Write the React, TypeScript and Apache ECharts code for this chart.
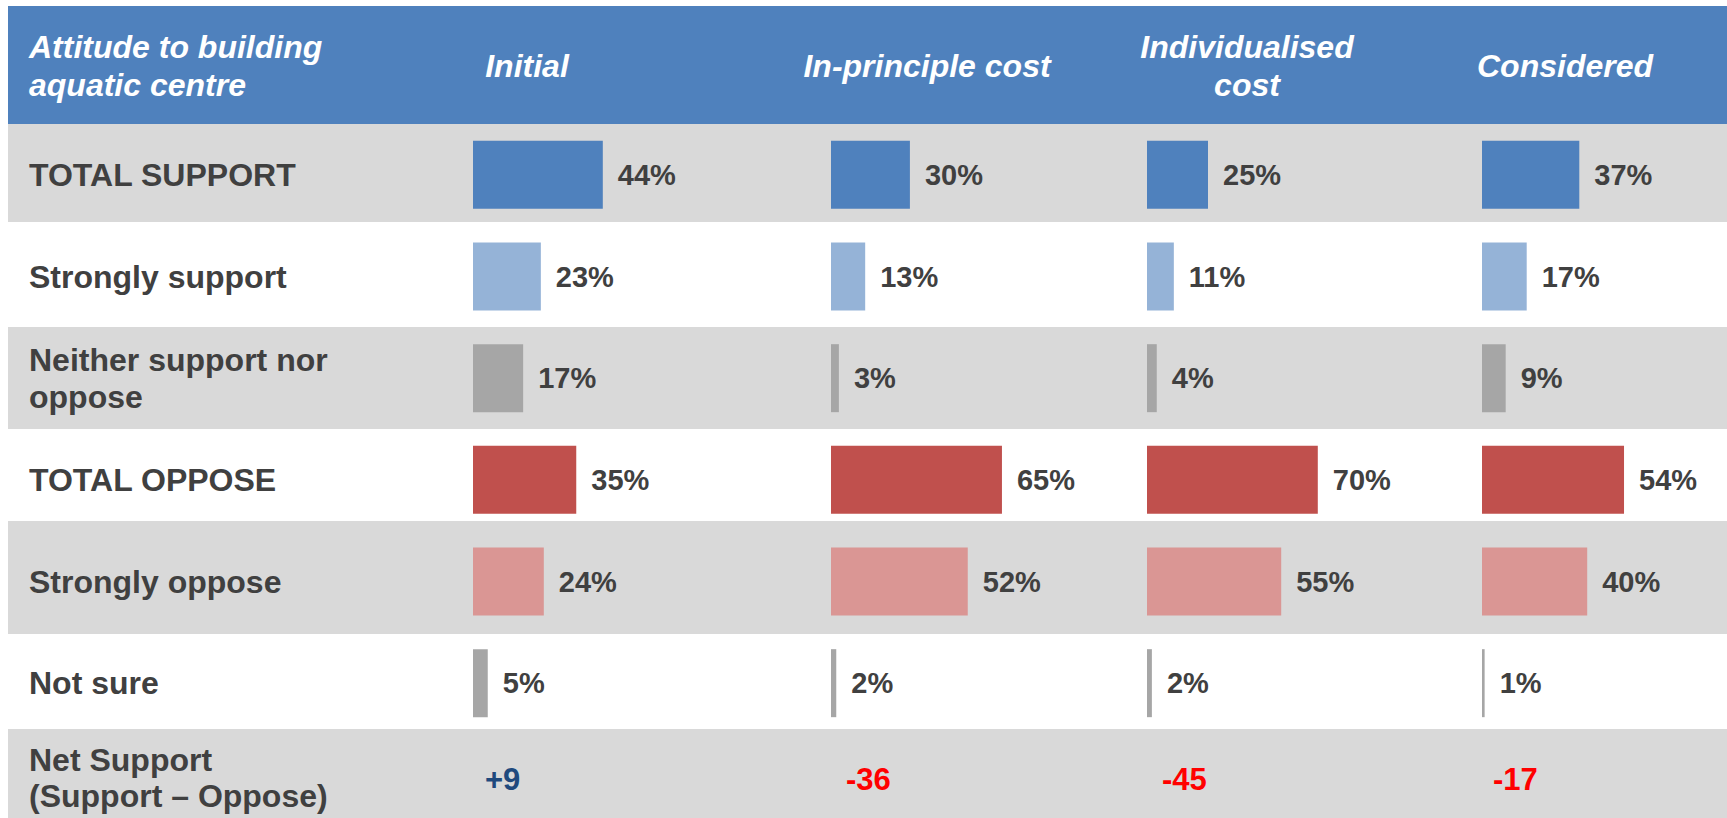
import React, { useEffect, useRef } from "react";
import * as echarts from "echarts";

const rowLabels = [
  "TOTAL SUPPORT",
  "Strongly support",
  "Neither support nor\noppose",
  "TOTAL OPPOSE",
  "Strongly oppose",
  "Not sure",
];
const columns = ["Initial", "In-principle cost", "Individualised\ncost", "Considered"];
const initialValues = [44, 23, 17, 35, 24, 5];
const inPrincipleValues = [30, 13, 3, 65, 52, 2];
const individualisedValues = [25, 11, 4, 70, 55, 2];
const consideredValues = [37, 17, 9, 54, 40, 1];
const netSupport = ["+9", "-36", "-45", "-17"];
const netLabel = "Net Support\n(Support – Oppose)";
const headerLabel = "Attitude to building\naquatic centre";

const rowColors = ["#4F81BD", "#95B3D7", "#A6A6A6", "#C0504D", "#DA9694", "#A6A6A6"];
const FONT = "'Liberation Sans', Arial, sans-serif";

export default function App() {
  const ref = useRef<HTMLDivElement>(null);
  useEffect(() => {
    if (!ref.current) return;
    const chart = echarts.init(ref.current, undefined, { renderer: "svg" });
    const allValues = [initialValues, inPrincipleValues, individualisedValues, consideredValues];
    // layout per column
    const colLeft = [473, 831, 1147, 1482];
    const colWidth = 240;
    const pxPerPct = [2.95, 2.63, 2.44, 2.63];
    const headerCenter = [527, 927, 1247, 1565];
    const netX = [485, 846, 1162, 1493];
    const gridTop = 124;
    const gridHeight = 610;

    const bands = [
      { y: 6, h: 118, c: "#4F81BD" },
      { y: 124, h: 98, c: "#D9D9D9" },
      { y: 222, h: 105, c: "#FFFFFF" },
      { y: 327, h: 102, c: "#D9D9D9" },
      { y: 429, h: 92, c: "#FFFFFF" },
      { y: 521, h: 113, c: "#D9D9D9" },
      { y: 634, h: 95, c: "#FFFFFF" },
      { y: 729, h: 89, c: "#D9D9D9" },
    ];

    const graphic: any[] = bands.map((b) => ({
      type: "rect",
      z: -10,
      silent: true,
      shape: { x: 8, y: b.y, width: 1727 - 8, height: b.h },
      style: { fill: b.c },
    }));
    graphic.push({
      type: "text",
      z: 10,
      x: 29,
      y: 66,
      style: {
        text: headerLabel,
        fill: "#FFFFFF",
        fontSize: 32,
        fontWeight: "bold",
        fontStyle: "italic",
        fontFamily: FONT,
        lineHeight: 38,
        align: "left",
        verticalAlign: "middle",
      },
    });
    columns.forEach((c, i) => {
      graphic.push({
        type: "text",
        z: 10,
        x: headerCenter[i],
        y: 66,
        style: {
          text: c,
          fill: "#FFFFFF",
          fontSize: 32,
          fontWeight: "bold",
          fontStyle: "italic",
          fontFamily: FONT,
          lineHeight: 38,
          align: "center",
          verticalAlign: "middle",
        },
      });
    });
    graphic.push({
      type: "text",
      z: 10,
      x: 29,
      y: 778,
      style: {
        text: netLabel,
        fill: "#404040",
        fontSize: 32,
        fontWeight: "bold",
        fontFamily: FONT,
        lineHeight: 36,
        align: "left",
        verticalAlign: "middle",
      },
    });
    netSupport.forEach((v, i) => {
      graphic.push({
        type: "text",
        z: 10,
        x: netX[i],
        y: 779,
        style: {
          text: v,
          fill: v.startsWith("+") ? "#1F497D" : "#FF0000",
          fontSize: 31,
          fontWeight: "bold",
          fontFamily: FONT,
          align: "left",
          verticalAlign: "middle",
        },
      });
    });

    const option: any = {
      animation: false,
      backgroundColor: "#FFFFFF",
      graphic,
      grid: columns.map((_, i) => ({
        left: colLeft[i],
        top: gridTop,
        width: colWidth,
        height: gridHeight,
        containLabel: false,
      })),
      xAxis: columns.map((_, i) => ({
        type: "value",
        gridIndex: i,
        min: 0,
        max: colWidth / pxPerPct[i],
        show: false,
      })),
      yAxis: columns.map((_, i) => ({
        type: "category",
        gridIndex: i,
        inverse: true,
        data: rowLabels,
        axisLine: { show: false },
        axisTick: { show: false },
        splitLine: { show: false },
        axisLabel:
          i === 0
            ? {
                show: true,
                margin: 444,
                align: "left",
                fontSize: 32,
                fontWeight: "bold",
                fontFamily: FONT,
                color: "#404040",
                lineHeight: 37,
              }
            : { show: false },
      })),
      series: allValues.map((vals, i) => ({
        type: "bar",
        xAxisIndex: i,
        yAxisIndex: i,
        barWidth: 68,
        data: vals.map((v, j) => ({ value: v, itemStyle: { color: rowColors[j] } })),
        label: {
          show: true,
          position: "right",
          distance: 15,
          formatter: "{c}%",
          fontSize: 29,
          fontWeight: "bold",
          fontFamily: FONT,
          color: "#404040",
        },
      })),
    };
    chart.setOption(option);
    return () => chart.dispose();
  }, []);
  return (
    <div
      ref={ref}
      style={{ position: "absolute", left: 0, top: 0, width: 1727, height: 818 }}
    />
  );
}
